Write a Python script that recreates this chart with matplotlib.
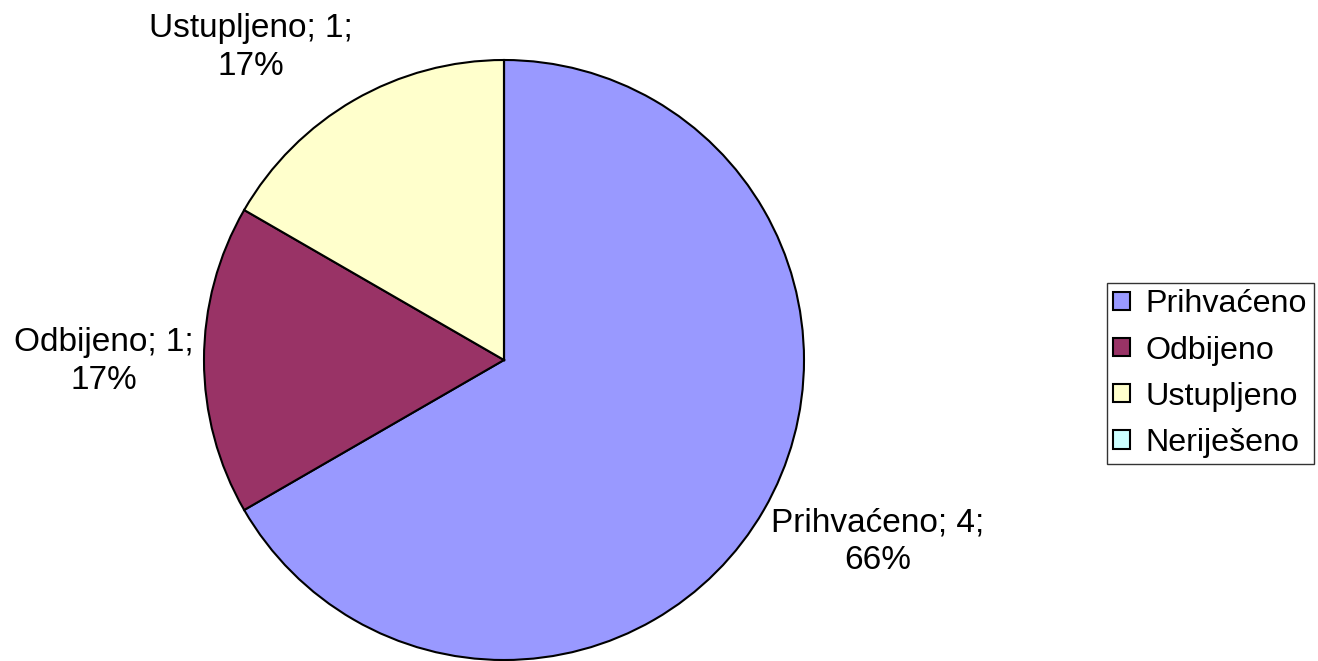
import matplotlib
matplotlib.use("Agg")
import matplotlib.pyplot as plt
from matplotlib.patches import Patch

categories = ["Prihvaćeno", "Odbijeno", "Ustupljeno", "Neriješeno"]
values = [4, 1, 1, 0]
percent_labels = ["66%", "17%", "17%", "0%"]
colors = ["#9999FF", "#993366", "#FFFFCC", "#CCFFFF"]

plt.rcParams['font.family'] = ['Liberation Sans', 'DejaVu Sans']
W, H = 1318, 661
fig = plt.figure(figsize=(W / 100, H / 100), dpi=100)
fig.patch.set_facecolor("white")

cx, cy, r = 504, 360, 300
ax = fig.add_axes([(cx - r) / W, (H - cy - r) / H, 2 * r / W, 2 * r / H])

wedges, _ = ax.pie(values, colors=colors, startangle=90, counterclock=False,
                   radius=1, wedgeprops=dict(edgecolor="black", linewidth=1.5))
ax.set_xlim(-1, 1)
ax.set_ylim(-1, 1)
ax.set_aspect("equal")
ax.axis("off")

fs = 24
label_pos = {
    "Prihvaćeno": (1.247, -0.605),
    "Odbijeno": (-1.333, -0.005),
    "Ustupljeno": (-0.843, 1.042),
}
for cat, val, pct in zip(categories, values, percent_labels):
    if cat in label_pos:
        x, y = label_pos[cat]
        ax.text(x, y, f"{cat}; {val};\n{pct}", ha="center", va="center",
                fontsize=fs, linespacing=1.27, clip_on=False)

handles = [Patch(facecolor=c, edgecolor="black", linewidth=1.5) for c in colors]
leg = fig.legend(handles, categories, loc="upper left",
                 bbox_to_anchor=(1107 / W, 1 - 283 / H), borderaxespad=0,
                 frameon=True, fancybox=False, edgecolor="black", fontsize=23.2,
                 handlelength=0.5, handleheight=0.5, handletextpad=0.5,
                 labelspacing=0.5, borderpad=0.2)
leg.get_frame().set_linewidth(1.0)

fig.savefig("out.png", dpi=100)
